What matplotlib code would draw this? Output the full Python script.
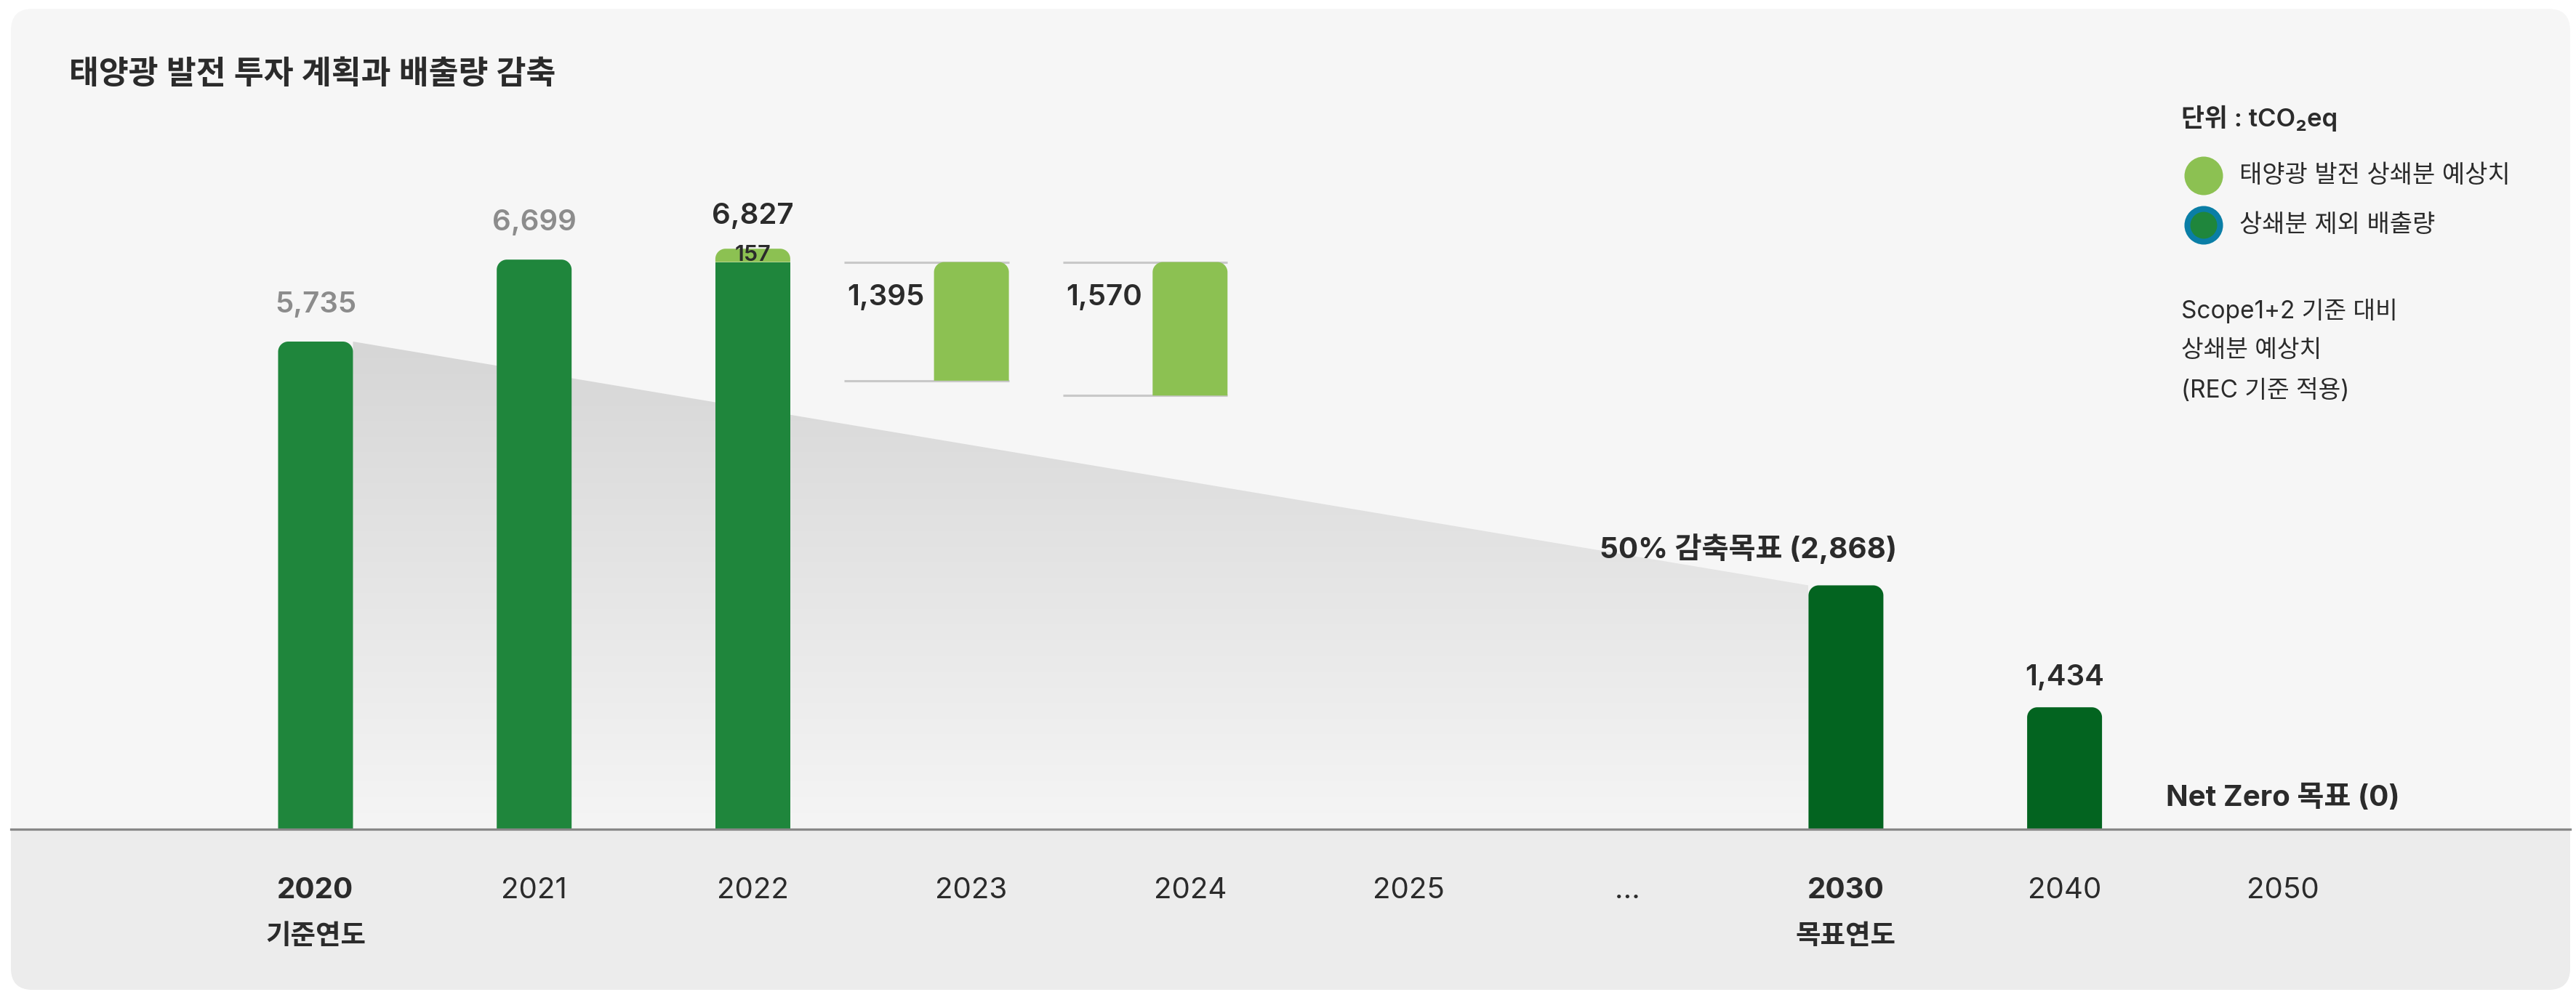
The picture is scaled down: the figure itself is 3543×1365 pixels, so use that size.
import numpy as np
import matplotlib
matplotlib.use("Agg")
import matplotlib.pyplot as plt
from matplotlib.patches import FancyBboxPatch, Rectangle, Polygon, Circle
from matplotlib.colors import LinearSegmentedColormap

plt.rcParams['font.family'] = ['Inter', 'Noto Sans CJK KR', 'DejaVu Sans']

# ---- data (tCO2eq) ----
categories = ['2020', '2021', '2022', '2023', '2024', '2025', '…', '2030', '2040', '2050']
bold_ticks = ['2020', '2030']
sub_labels = {'2020': '기준연도', '2030': '목표연도'}

emission_years = ['2020', '2021', '2022']
emission_vals = [5735, 6699, 6670]          # 2022: 6,827 - 157 offset
offset_2022 = 157
plan_years = ['2023', '2024']
plan_offsets = [1395, 1570]
target_years = ['2030', '2040']
target_vals = [2868, 1434]
netzero_year = '2050'
netzero_val = 0

title = '태양광 발전 투자 계획과 배출량 감축'
legend_items = ['태양광 발전 상쇄분 예상치', '상쇄분 제외 배출량']
note_lines = ['Scope1+2 기준 대비', '상쇄분 예상치', '(REC 기준 적용)']

# ---- colours ----
DARK = '#1f863c'
DEEP = '#036420'
LIGHT = '#8cc152'
BLUE = '#0a7ea6'
TXT = '#2b2b2b'
GREY_TXT = '#8c8c8c'

# ---- layout (figure pixels) ----
W, H = 3543, 1365
X0_PX, STEP_PX = 434, 300.7      # centre of first category, spacing
BASE_PX = 224                     # baseline height from bottom
PX_PER_UNIT = 0.117
BAR_W = 103 / STEP_PX

fig = plt.figure(figsize=(W / 100, H / 100), dpi=100)
fig.patch.set_facecolor('white')

# background panel in pixel coords
bg = fig.add_axes([0, 0, 1, 1], zorder=0)
bg.set_xlim(0, W)
bg.set_ylim(0, H)
bg.axis('off')
panel = FancyBboxPatch((15, 3), 3520, 1350, boxstyle='round,pad=0,rounding_size=30',
                       fc='#f6f6f6', ec='none')
bg.add_patch(panel)
band = Rectangle((0, 0), W, BASE_PX, fc='#ececec', ec='none')
bg.add_patch(band)
band.set_clip_path(panel)

ax = fig.add_axes([0, 0, 1, 1], zorder=1)
ax.patch.set_alpha(0)
ax.axis('off')
ax.set_xlim(-X0_PX / STEP_PX, (W - X0_PX) / STEP_PX)
ax.set_ylim(-BASE_PX / PX_PER_UNIT, (H - BASE_PX) / PX_PER_UNIT)

pos = {c: i for i, c in enumerate(categories)}


def top_rounded(xc, y0, y1, color, r_px=14, z=3):
    rx = r_px / STEP_PX
    ry = min(r_px / PX_PER_UNIT, (y1 - y0))
    xl, xr = xc - BAR_W / 2, xc + BAR_W / 2
    t = np.linspace(0, np.pi / 2, 24)
    left = np.column_stack([xl + rx - rx * np.cos(t), y1 - ry + ry * np.sin(t)])
    right = np.column_stack([xr - rx + rx * np.cos(t[::-1]), y1 - ry + ry * np.sin(t[::-1])])
    verts = np.vstack([[xl, y0], left, right, [xr, y0]])
    ax.add_patch(Polygon(verts, closed=True, fc=color, ec='none', zorder=z))


def label(x, y, s, dx=0, dy=0, ha='center', va='baseline', color=TXT, size=29, weight='semibold'):
    ax.annotate(s, (x, y), xytext=(dx, dy), textcoords='offset pixels', ha=ha, va=va,
                color=color, fontsize=size, fontweight=weight, zorder=6)


# reduction path gradient (2020 -> 2030 target)
x_a = pos['2020'] + BAR_W / 2
x_b = pos['2030'] - BAR_W / 2
path = Polygon([(x_a, emission_vals[0]), (x_b, target_vals[0]), (x_b, 0), (x_a, 0)],
               closed=True, fc='none', ec='none')
ax.add_patch(path)
grad = LinearSegmentedColormap.from_list('g', ['#d6d6d6', '#f5f5f5'])
img = ax.imshow(np.linspace(0, 1, 256).reshape(-1, 1), cmap=grad, aspect='auto',
                extent=[x_a, x_b, 0, emission_vals[0]], origin='upper', zorder=1,
                interpolation='bicubic')
img.set_clip_path(path)

# actual emissions
for yr, v in zip(emission_years, emission_vals):
    x = pos[yr]
    if yr == '2022':
        ax.add_patch(Rectangle((x - BAR_W / 2, 0), BAR_W, v, fc=DARK, ec='none', zorder=3))
        top_rounded(x, v, v + offset_2022, LIGHT)
        label(x, v + offset_2022, f'{v + offset_2022:,}', dy=34)
        label(x, v + offset_2022 / 2, f'{offset_2022}', va='center', size=22)
    else:
        top_rounded(x, 0, v, DARK)
        label(x, v, f'{v:,}', dy=40, color=GREY_TXT)

# planned solar offsets hanging from 2022 level
top_level = emission_vals[2]
for yr, off in zip(plan_years, plan_offsets):
    x = pos[yr]
    top_rounded(x, top_level - off, top_level, LIGHT)
    xl = x - BAR_W / 2 - 0.41
    for yy in (top_level, top_level - off):
        ax.plot([xl, x + BAR_W / 2], [yy, yy], color='#c8c8c8', lw=2.2, zorder=2,
                solid_capstyle='butt')
    label(xl, top_level, f'{off:,}', dx=4, dy=-49, ha='left', va='center')

# targets
for yr, v in zip(target_years, target_vals):
    x = pos[yr]
    top_rounded(x, 0, v, DEEP)
    if yr == '2030':
        label(x + BAR_W / 2, v, f'50% 감축목표 ({v:,})', dx=19, dy=37, ha='right', weight='bold')
    else:
        label(x, v, f'{v:,}', dy=30)
label(pos[netzero_year], netzero_val, f'Net Zero 목표 ({netzero_val})', dy=32, weight='bold')

# baseline
ax.axhline(0, xmin=15 / W, xmax=3535 / W, color='#888888', lw=2.3, zorder=5)

# category labels
for c in categories:
    x = pos[c]
    b = c in bold_ticks
    label(x, 0, c, dy=-84, va='center', weight='bold' if b else 'normal', size=29)
    if c in sub_labels:
        label(x, 0, sub_labels[c], dy=-148, va='center', weight='bold', size=27)

# title, unit, legend, note
bg.text(95, 1262, title, ha='left', va='center', fontsize=32, fontweight='semibold', color=TXT)
bg.text(3000, 1202, '단위 : tCO₂eq', ha='left', va='center', fontsize=25,
        fontweight='semibold', color=TXT)
bg.add_patch(Circle((3031, 1123), 26.5, fc=LIGHT, ec='none'))
bg.add_patch(Circle((3031, 1055), 22.5, fc=DARK, ec=BLUE, lw=5.8))
for yy, s in zip([1123, 1055], legend_items):
    bg.text(3080, yy, s, ha='left', va='center', fontsize=24.5, color=TXT)
for yy, s in zip([937, 883, 828], note_lines):
    bg.text(3000, yy, s, ha='left', va='center', fontsize=24, color=TXT)

fig.savefig('out.png', dpi=100)
